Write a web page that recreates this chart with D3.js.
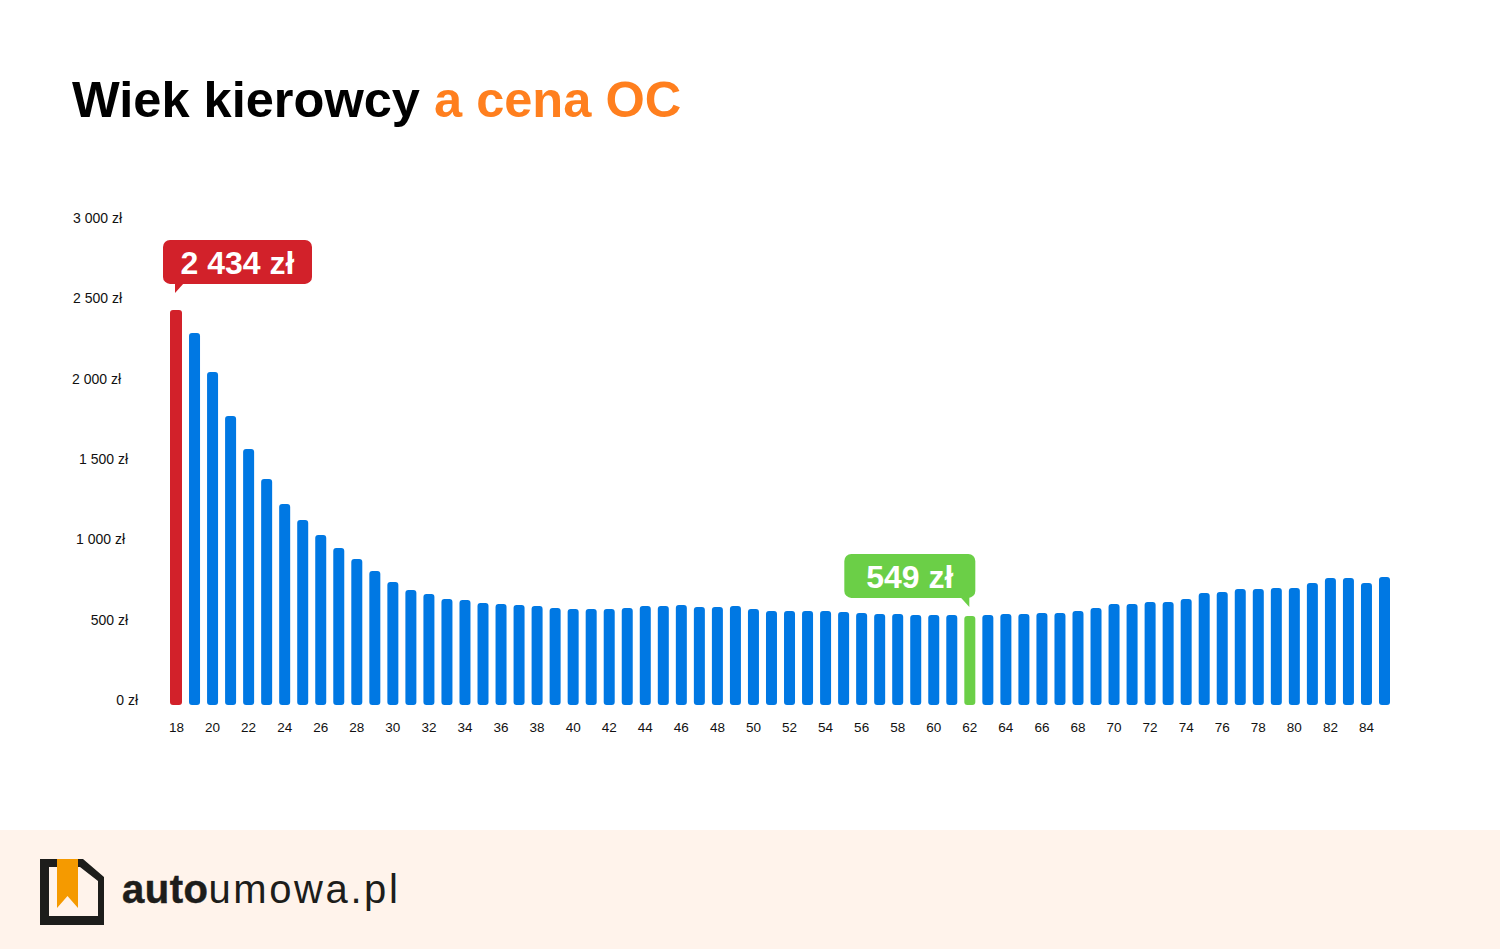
<!DOCTYPE html>
<html>
<head>
<meta charset="utf-8">
<script src="https://cdn.jsdelivr.net/npm/d3@7"></script>
<style>
  html, body { margin: 0; padding: 0; background: #fff; }
  svg { display: block; font-family: "Liberation Sans", Arial, sans-serif; }
</style>
</head>
<body>
<svg id="chart" width="1500" height="950"></svg>
<script>
// wiek kierowcy
const ages = d3.range(18, 86);
// srednia cena OC (zl)
const prices = [
  2434, 2292, 2052, 1781, 1577, 1392, 1238, 1140, 1047, 967,
  900, 826, 758, 709, 684, 653, 647, 628, 622, 616,
  610, 598, 591, 591, 591, 598, 610, 610, 616, 604,
  604, 610, 591, 579, 579, 579, 579, 573, 567, 561,
  561, 555, 555, 555, 549, 555, 561, 561, 567, 567,
  579, 598, 622, 622, 635, 635, 653, 690, 696, 715,
  715, 721, 721, 752, 782, 782, 752, 789
];
const xTicks = d3.range(18, 86, 2);
const yTicks = [0, 500, 1000, 1500, 2000, 2500, 3000];
// prawe krawedzie podpisow osi Y sa w oryginale nierowne
const yLabelRight = [138, 128, 125, 128, 121, 122, 122];

const minAge = 18, bestAge = 62;
const RED = '#d2212a', BLUE = '#0078e3', GREEN = '#6bcf47', ORANGE = '#ff7f1e', DARK = '#1d1d1b';

const svg = d3.select('#chart');

// tytul
const title = svg.append('text')
  .attr('x', 72).attr('y', 117)
  .attr('font-size', 50.55).attr('font-weight', 'bold');
title.append('tspan').attr('fill', '#000').text('Wiek kierowcy ');
title.append('tspan').attr('fill', ORANGE).text('a cena OC');

// skale
const xscale = d3.scaleBand()
  .domain(ages)
  .range([171, 1390])
  .paddingInner(0.39);
const yscale = d3.scaleLinear().domain([0, 3000]).range([705, 218]);
// podpisy osi maja troche inna podstawe niz slupki
const ylabels = d3.scaleLinear().domain([0, 3000]).range([700, 218]);

const rowOf = (d, i) => ({ age: d, price: prices[i] });
const data = ages.map(rowOf);
const color = d => d.age === minAge ? RED : d.age === bestAge ? GREEN : BLUE;

// slupki
svg.append('g').selectAll('rect')
  .data(data)
  .join('rect')
  .attr('x', d => xscale(d.age) - (d.age === minAge ? 1 : 0))
  .attr('y', d => yscale(d.price))
  .attr('width', d => xscale.bandwidth() + (d.age === minAge ? 1 : 0))
  .attr('height', d => yscale(0) - yscale(d.price))
  .attr('rx', 3)
  .attr('fill', color);

// osie
const xaxis = d3.axisBottom(xscale).tickValues(xTicks).tickSize(0).tickPadding(0);
svg.append('g')
  .attr('transform', 'translate(0,722.5)')
  .call(xaxis)
  .call(g => g.select('.domain').remove())
  .selectAll('text')
  .attr('font-size', 13.5).attr('font-family', null).attr('fill', '#111');

const yaxis = d3.axisLeft(ylabels).tickValues(yTicks).tickSize(0)
  .tickFormat(d => d3.format(',')(d).replace(',', ' ') + ' zł');
svg.append('g')
  .call(yaxis)
  .call(g => g.select('.domain').remove())
  .selectAll('text')
  .attr('x', (d, i) => yLabelRight[i])
  .attr('font-size', 14).attr('font-family', null).attr('fill', '#111');

// dymki z cena
function bubble(x, y, w, tail, fill, label) {
  const g = svg.append('g').attr('transform', `translate(${x},${y})`);
  g.append('rect').attr('width', w).attr('height', 44).attr('rx', 7).attr('fill', fill);
  g.append('path').attr('d', tail).attr('fill', fill);
  g.append('text')
    .attr('x', w / 2).attr('y', 34)
    .attr('text-anchor', 'middle')
    .attr('font-size', 32).attr('font-weight', 'bold').attr('fill', '#fff')
    .text(label);
}
const fmt = v => d3.format(',')(v).replace(',', ' ') + ' zł';
const maxPrice = prices[ages.indexOf(minAge)], bestPrice = prices[ages.indexOf(bestAge)];
bubble(xscale(minAge) - 8, yscale(maxPrice) - 70, 149, 'M12,43L12,53L21,43Z', RED, fmt(maxPrice));
bubble(xscale(bestAge) + xscale.bandwidth() - 131, yscale(bestPrice) - 62, 131, 'M116,43L125,53L125,43Z', GREEN, fmt(bestPrice));

// stopka
svg.append('rect').attr('x', 0).attr('y', 830).attr('width', 1500).attr('height', 119).attr('fill', '#fff3eb');

const logo = svg.append('g').attr('transform', 'translate(40,859)');
logo.append('path')
  .attr('d', 'M0,0H43L64,18V66H0Z M9,8V57H58V22L40,8Z')
  .attr('fill-rule', 'evenodd')
  .attr('fill', DARK);
logo.append('path')
  .attr('d', 'M17,0H38V49L27.5,37L17,49Z')
  .attr('fill', '#f59a00');

const brand = svg.append('text')
  .attr('x', 122).attr('y', 902.5)
  .attr('font-size', 40).attr('fill', DARK);
brand.append('tspan').attr('font-weight', 'bold')
  .attr('letter-spacing', 0.5)
  .attr('stroke', DARK).attr('stroke-width', 0.5)
  .text('auto');
brand.append('tspan').attr('letter-spacing', 2.6).text('umowa.pl');
</script>
</body>
</html>
